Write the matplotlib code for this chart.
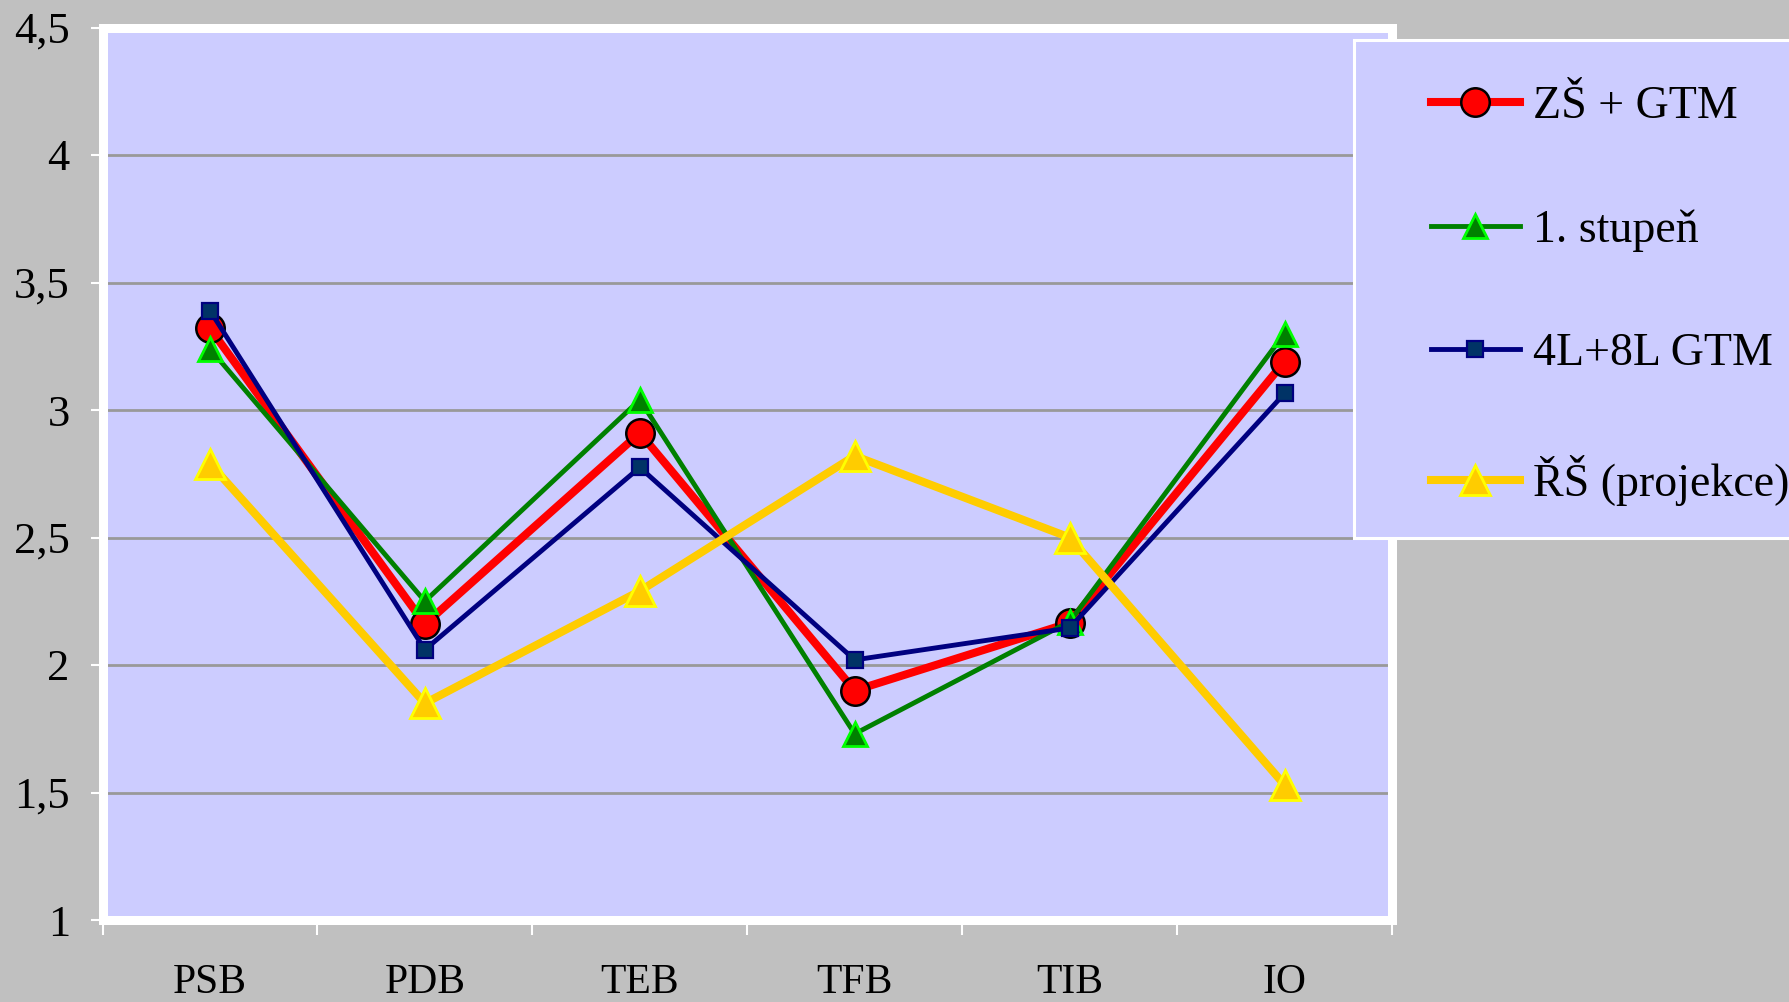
import matplotlib
matplotlib.use("Agg")
import matplotlib.pyplot as plt
from matplotlib.patches import Rectangle
from matplotlib.ticker import FixedLocator, FixedFormatter

# ----- DATA -----
categories = ["PSB", "PDB", "TEB", "TFB", "TIB", "IO"]
zs_gtm = [3.32, 2.16, 2.91, 1.90, 2.165, 3.19]
stupen1 = [3.24, 2.25, 3.04, 1.73, 2.17, 3.30]
gtm_4l8l = [3.39, 2.06, 2.775, 2.02, 2.145, 3.065]
rs_projekce = [2.79, 1.85, 2.29, 2.82, 2.50, 1.53]
series_names = ["ZŠ + GTM", "1. stupeň", "4L+8L GTM", "ŘŠ (projekce)"]
y_ticks = [1, 1.5, 2, 2.5, 3, 3.5, 4, 4.5]
y_tick_labels = ["1", "1,5", "2", "2,5", "3", "3,5", "4", "4,5"]

W, H = 1789, 1002
plt.rcParams['font.family'] = ['Liberation Serif', 'DejaVu Serif']

fig = plt.figure(figsize=(W / 100, H / 100), dpi=100, facecolor="#C0C0C0")
# axes box in pixel coords (left, top, right, bottom)
L, T, R, B = 102.5, 27.5, 1392, 920
ax = fig.add_axes([L / W, 1 - B / H, (R - L) / W, (B - T) / H])
ax.set_facecolor("#CCCCFF")

x = list(range(1, len(categories) + 1))

ax.plot(x, zs_gtm, color="#FF0000", lw=5.8, marker="o", ms=20.5,
        mfc="#FF0000", mec="black", mew=1.8, label=series_names[0], zorder=3)
ax.plot(x, stupen1, color="#008000", lw=3.5, marker="^", ms=17,
        mfc="#008000", mec="#00FF00", mew=2, label=series_names[1], zorder=4)
ax.plot(x, gtm_4l8l, color="#000080", lw=3.5, marker="s", ms=12,
        mfc="#003366", mec="#000080", mew=1.6, label=series_names[2], zorder=5)
ax.plot(x, rs_projekce, color="#FFCC00", lw=5.8, marker="^", ms=22,
        mfc="#FFCC00", mec="#FFFF00", mew=2, label=series_names[3], zorder=6)

ax.set_xlim(0.5, len(categories) + 0.5)
ax.set_ylim(1, 4.5)

# grid
for yv in y_ticks[1:-1]:
    ax.axhline(yv, color="#999999", lw=2, zorder=1)

for s in ax.spines.values():
    s.set_color("white")
    s.set_linewidth(6.5)

ax.yaxis.set_major_locator(FixedLocator(y_ticks))
ax.yaxis.set_major_formatter(FixedFormatter(y_tick_labels))
ax.tick_params(axis="y", direction="out", length=8.5, width=1.5,
               color="white", labelsize=32, pad=15)

ax.xaxis.set_major_locator(FixedLocator(x))
ax.xaxis.set_major_formatter(FixedFormatter(categories))
ax.xaxis.set_minor_locator(FixedLocator([i + 0.5 for i in range(len(categories) + 1)]))
ax.tick_params(axis="x", which="major", length=0, labelsize=30, pad=31)
ax.tick_params(axis="x", which="minor", direction="out", length=11,
               width=1.5, color="white")

# legend box
fig.patches.append(Rectangle((1354 / W, 1 - 538 / H), (1820 - 1354) / W, (538 - 40) / H,
                             transform=fig.transFigure, facecolor="#CCCCFF",
                             edgecolor="white", lw=2.2, zorder=0))
fig.legend(loc="upper left", bbox_to_anchor=(1431 / W, 1 - 86 / H),
           frameon=False, fontsize=33, borderpad=0, borderaxespad=0,
           handlelength=1.94, handletextpad=0.28, labelspacing=1.76)

fig.savefig("out.png", dpi=100, facecolor=fig.get_facecolor())
